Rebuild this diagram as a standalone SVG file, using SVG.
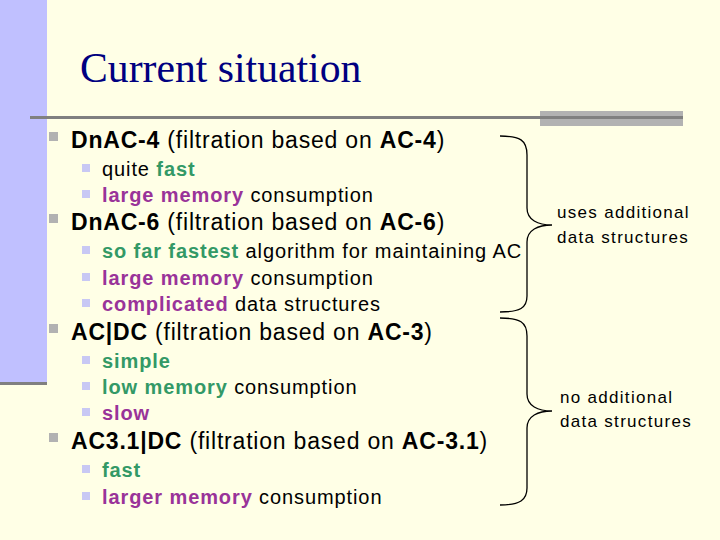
<svg xmlns="http://www.w3.org/2000/svg" width="720" height="540" viewBox="0 0 720 540">
<style>
text{font-family:"Liberation Sans",Arial,sans-serif;fill:#000}
.l1{font-size:23px;letter-spacing:0.8px}.l2{font-size:20px;letter-spacing:0.9px}.r{font-size:17px;letter-spacing:1.3px}
.g{fill:#339966;font-weight:bold}.m{fill:#993399;font-weight:bold}.b{font-weight:bold}
.brace{fill:none;stroke:#000;stroke-width:1.3}
</style>
<defs>
<rect id="b1" width="9" height="9" fill="#b2b2b2"/>
<rect id="b2" width="8" height="8" fill="#c8c8f4"/>
</defs>
<rect width="720" height="540" fill="#ffffe6"/>
<rect x="0" y="0" width="47" height="382" fill="#c0c0ff"/>
<rect x="0" y="382" width="47" height="3" fill="#808080"/>
<rect x="30" y="116" width="512" height="3" fill="#808080"/>
<rect x="540" y="111" width="143" height="15" fill="#b2b2b2"/>
<rect x="540" y="116" width="143" height="3" fill="#808080"/>
<text x="80" y="82" style="font-family:'Liberation Serif',serif;font-size:41.7px;fill:#000080">Current situation</text>
<g id="items">
<use href="#b1" x="49" y="132"/><text class="l1" x="71" y="148"><tspan class="b">DnAC-4</tspan> (filtration based on <tspan class="b">AC-4</tspan>)</text>
<use href="#b2" x="82" y="164"/><text class="l2" x="102" y="176">quite <tspan class="g">fast</tspan></text>
<use href="#b2" x="82" y="190"/><text class="l2" x="102" y="202"><tspan class="m">large memory</tspan> consumption</text>
<use href="#b1" x="49" y="214"/><text class="l1" x="71" y="230"><tspan class="b">DnAC-6</tspan> (filtration based on <tspan class="b">AC-6</tspan>)</text>
<use href="#b2" x="82" y="246"/><text class="l2" x="102" y="258"><tspan class="g">so far fastest</tspan> algorithm for maintaining AC</text>
<use href="#b2" x="82" y="273"/><text class="l2" x="102" y="285"><tspan class="m">large memory</tspan> consumption</text>
<use href="#b2" x="82" y="299"/><text class="l2" x="102" y="311"><tspan class="m">complicated</tspan> data structures</text>
<use href="#b1" x="49" y="324"/><text class="l1" x="71" y="340"><tspan class="b">AC|DC</tspan> (filtration based on <tspan class="b">AC-3</tspan>)</text>
<use href="#b2" x="82" y="356"/><text class="l2" x="102" y="368"><tspan class="g">simple</tspan></text>
<use href="#b2" x="82" y="382"/><text class="l2" x="102" y="394"><tspan class="g">low memory</tspan> consumption</text>
<use href="#b2" x="82" y="408"/><text class="l2" x="102" y="420"><tspan class="m">slow</tspan></text>
<use href="#b1" x="49" y="433"/><text class="l1" x="71" y="449"><tspan class="b">AC3.1|DC</tspan> (filtration based on <tspan class="b">AC-3.1</tspan>)</text>
<use href="#b2" x="82" y="465"/><text class="l2" x="102" y="477"><tspan class="g">fast</tspan></text>
<use href="#b2" x="82" y="492"/><text class="l2" x="102" y="504"><tspan class="m">larger memory</tspan> consumption</text>
</g>
<g id="connectors">
<path class="brace" d="M500,136 C520,136 527,140 527,155 L527,208 C527,220 538,225 552,225 C538,225 527,230 527,242 L527,296 C527,308 520,312 500,312"/>
<path class="brace" d="M500,318 C520,318 527,322 527,336 L527,394 C527,406 538,411 552,411 C538,411 527,416 527,428 L527,488 C527,500 520,505 500,505"/>
</g>
<g id="notes">
<text class="r" x="557" y="218">uses additional</text>
<text class="r" x="557" y="243">data structures</text>
<text class="r" x="560" y="403">no additional</text>
<text class="r" x="560" y="427">data structures</text>
</g>
</svg>
